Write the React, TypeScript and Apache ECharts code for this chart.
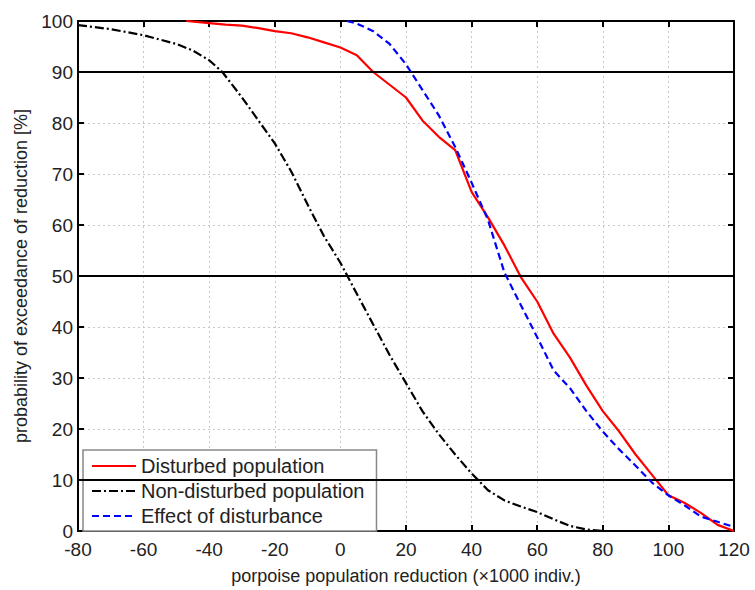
import React, { useEffect, useRef } from "react";
import * as echarts from "echarts";

const disturbedX = [-47, -40, -35, -30, -25, -20, -15, -10, -5, 0, 5, 10, 15, 20, 25, 30, 35, 40, 45, 50, 55, 60, 65, 70, 75, 80, 85, 90, 95, 100, 105, 110, 115, 120];
const disturbedY = [100, 99.6, 99.3, 99.1, 98.6, 98, 97.6, 96.8, 95.8, 94.8, 93.3, 90, 87.5, 85, 80.5, 77.3, 74.7, 66.5, 61.5, 56, 49.8, 45, 38.7, 34, 28.5, 23.5, 19.5, 15, 11, 7, 5.5, 3.5, 1.2, 0];

const nonDisturbedX = [-80, -70, -60, -50, -45, -40, -36, -30, -25, -20, -15, -10, -5, 0, 5, 10, 15, 20, 25, 30, 35, 40, 45, 50, 55, 60, 65, 70, 75, 80, 100];
const nonDisturbedY = [99.2, 98.4, 97.2, 95.5, 94.2, 92.3, 90, 85, 80.5, 76, 70.5, 64, 57.8, 52.6, 46.5, 40.5, 34.5, 29, 23.5, 19, 15, 11.3, 8, 6, 4.8, 3.7, 2.3, 1, 0.3, 0, 0];

const effectX = [2, 5, 10, 15, 20, 25, 30, 35, 40, 45, 50, 55, 60, 65, 70, 75, 80, 85, 90, 95, 100, 105, 110, 115, 120];
const effectY = [100, 99.5, 98, 95.5, 91.5, 86.5, 81.5, 75.3, 68.3, 61, 50.7, 44.3, 38, 31.5, 28, 23.5, 19.5, 16, 12.8, 9.5, 7, 5, 2.8, 1.8, 0.8];

const thresholds = [90, 50, 10];

const seriesNames = ["Disturbed population", "Non-disturbed population", "Effect of disturbance"];

const zip = (xs: number[], ys: number[]) => xs.map((x, i) => [x, ys[i]]);

const FONT = "Liberation Sans, Arial, sans-serif";

export default function App() {
  const ref = useRef<HTMLDivElement>(null);
  useEffect(() => {
    if (!ref.current) return;
    const chart = echarts.init(ref.current, undefined, { renderer: "svg" });
    const gridLine = { show: true, lineStyle: { color: "#c8c8c8", type: [2, 3], width: 1 } };
    const tickIn = { show: true, inside: true, length: 6, lineStyle: { color: "#000", width: 2 } };
    chart.setOption({
      animation: false,
      backgroundColor: "#fff",
      textStyle: { fontFamily: FONT },
      grid: { left: 78, top: 21, right: 21, bottom: 53, containLabel: false },
      legend: {
        orient: "vertical",
        left: 83,
        top: 450,
        data: seriesNames,
        itemWidth: 44,
        itemHeight: 14,
        itemGap: 5,
        padding: [6, 12, 5, 8],
        backgroundColor: "#fff",
        borderColor: "#888",
        borderWidth: 1.5,
        borderRadius: 0,
        itemStyle: { opacity: 0 },
        textStyle: { fontSize: 20, color: "#222", fontFamily: FONT },
      },
      xAxis: [
        {
          type: "value",
          min: -80,
          max: 120,
          interval: 20,
          name: "porpoise population reduction (\u00d71000 indiv.)",
          nameLocation: "middle",
          nameGap: 36,
          nameTextStyle: { fontSize: 18, color: "#222", fontFamily: FONT },
          axisLine: { show: true, onZero: false, lineStyle: { color: "#000", width: 2 } },
          axisTick: tickIn,
          axisLabel: { fontSize: 19, lineHeight: 17, color: "#222", margin: 10, fontFamily: FONT },
          splitLine: gridLine,
        },
        {
          type: "value",
          min: -80,
          max: 120,
          interval: 20,
          position: "top",
          axisLine: { show: true, onZero: false, lineStyle: { color: "#000", width: 2 } },
          axisTick: tickIn,
          axisLabel: { show: false },
          splitLine: { show: false },
        },
      ],
      yAxis: [
        {
          type: "value",
          min: 0,
          max: 100,
          interval: 10,
          name: "probability of exceedance of reduction [%]",
          nameLocation: "middle",
          nameGap: 44,
          nameTextStyle: { fontSize: 18, color: "#222", fontFamily: FONT },
          axisLine: { show: true, onZero: false, lineStyle: { color: "#000", width: 2 } },
          axisTick: tickIn,
          axisLabel: { fontSize: 19, lineHeight: 15, color: "#222", margin: 5, fontFamily: FONT },
          splitLine: gridLine,
        },
        {
          type: "value",
          min: 0,
          max: 100,
          interval: 10,
          position: "right",
          axisLine: { show: true, onZero: false, lineStyle: { color: "#000", width: 2 } },
          axisTick: tickIn,
          axisLabel: { show: false },
          splitLine: { show: false },
        },
      ],
      series: [
        {
          name: seriesNames[0],
          type: "line",
          data: zip(disturbedX, disturbedY),
          showSymbol: false,
          symbol: "none",
          z: 4,
          lineStyle: { color: "#ff0000", width: 2.2, type: "solid" },
          itemStyle: { color: "#ff0000" },
          markLine: {
            silent: true,
            symbol: ["none", "none"],
            label: { show: false },
            lineStyle: { color: "#000", width: 2, type: "solid" },
            data: thresholds.map((t) => ({ yAxis: t })),
          },
        },
        {
          name: seriesNames[1],
          type: "line",
          data: zip(nonDisturbedX, nonDisturbedY),
          showSymbol: false,
          symbol: "none",
          z: 3,
          lineStyle: { color: "#000", width: 2.2, type: [9, 3, 2, 3] },
          itemStyle: { color: "#000" },
        },
        {
          name: seriesNames[2],
          type: "line",
          data: zip(effectX, effectY),
          showSymbol: false,
          symbol: "none",
          z: 5,
          lineStyle: { color: "#0000ff", width: 2.2, type: [7, 4] },
          itemStyle: { color: "#0000ff" },
        },
      ],
    });
    return () => chart.dispose();
  }, []);
  return <div ref={ref} style={{ position: "fixed", left: 0, top: 0, width: 755, height: 590 }} />;
}
